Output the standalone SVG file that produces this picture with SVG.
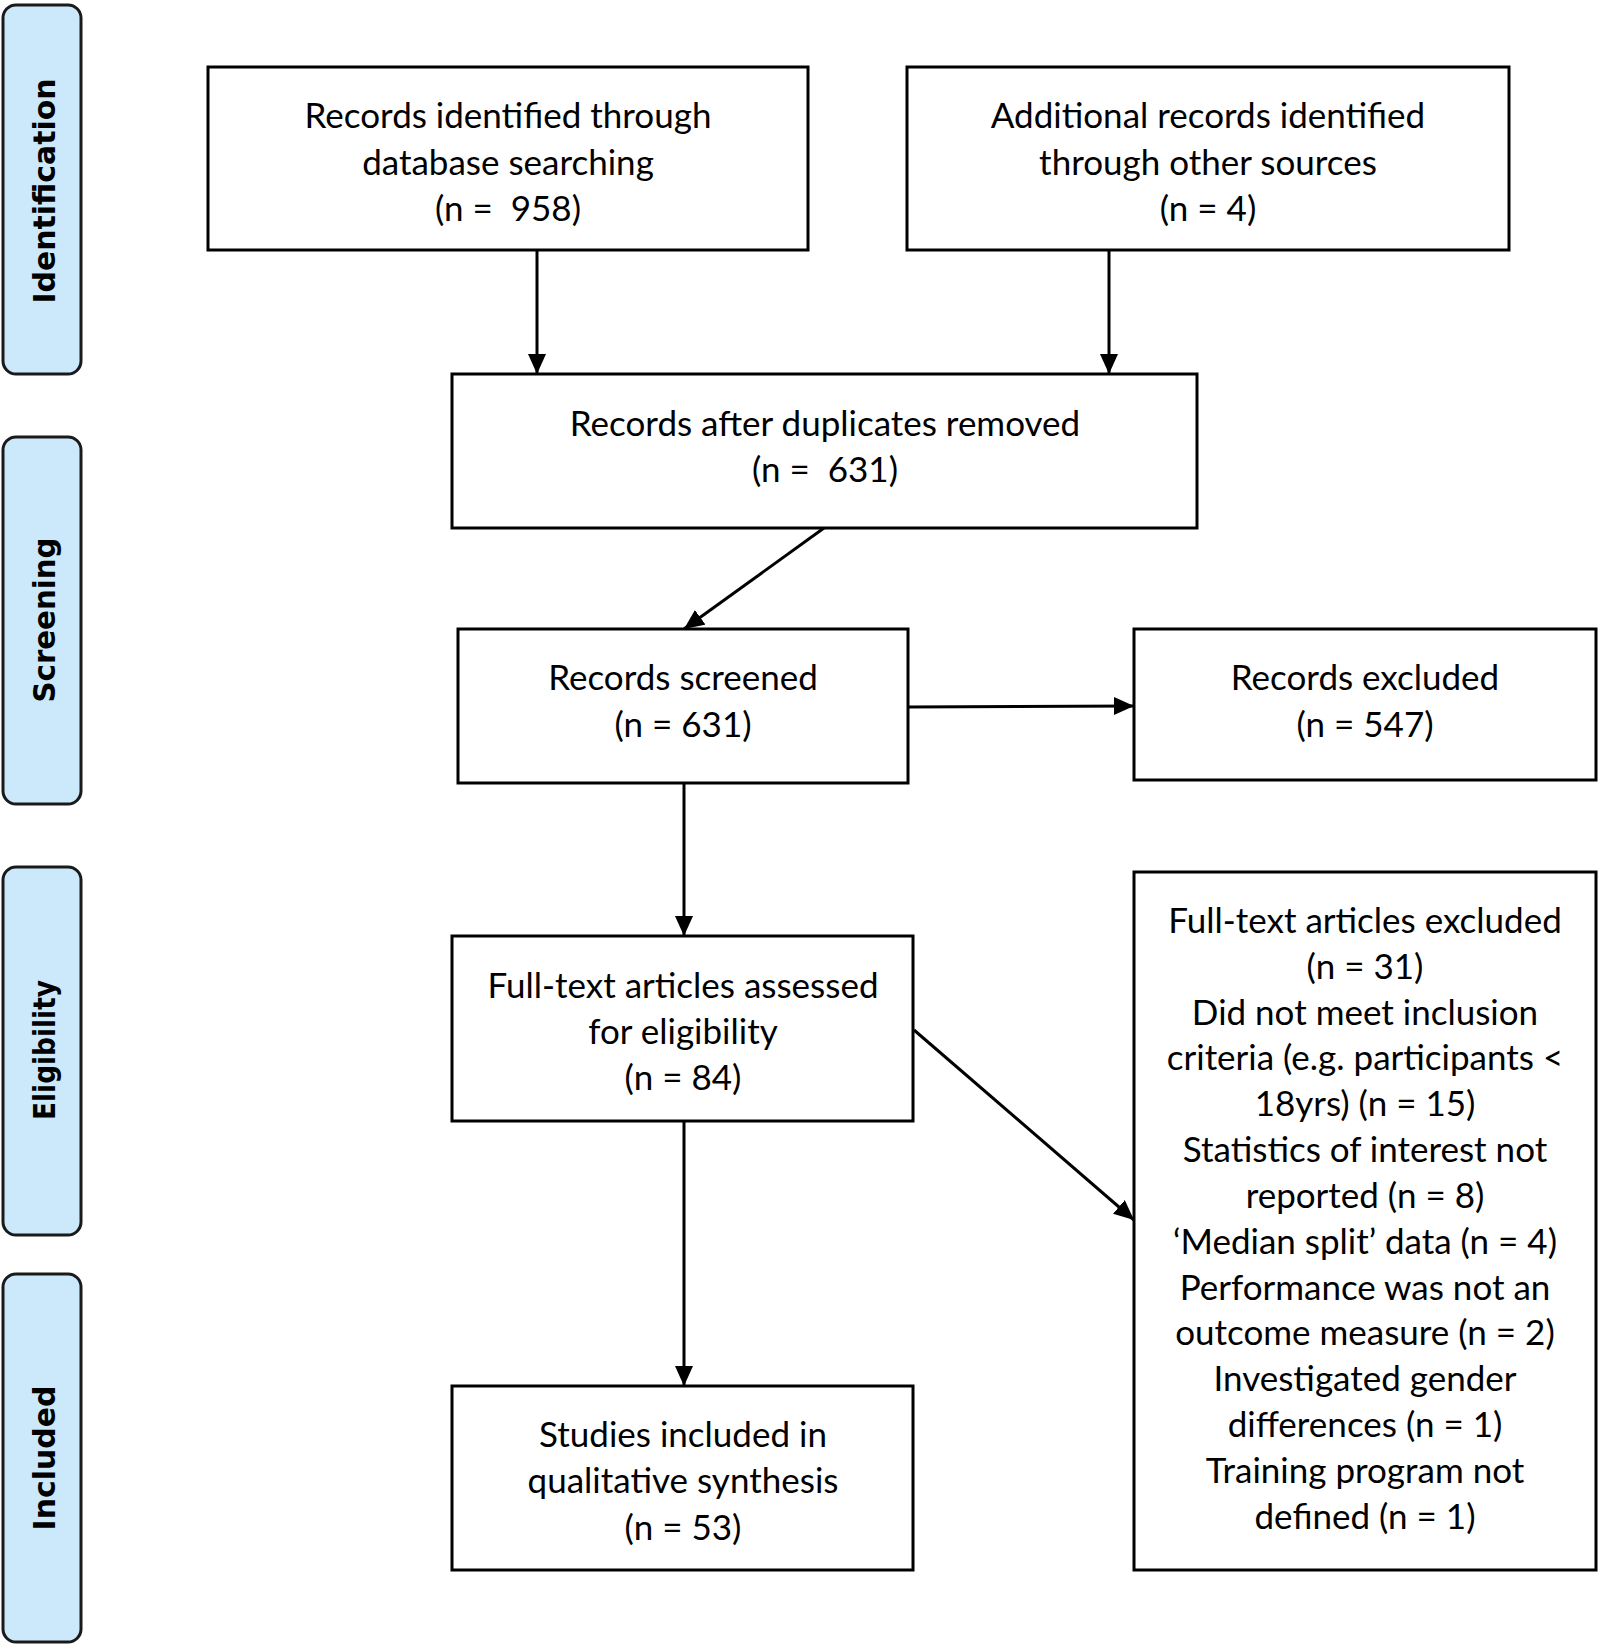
<svg xmlns="http://www.w3.org/2000/svg" width="1600" height="1644" viewBox="0 0 1600 1644">
<style>
.box{fill:#fff;stroke:#000;stroke-width:3}
.lane{fill:#cce9fb;stroke:#1a1a1a;stroke-width:3}
.t{font-family:Lato,"Liberation Sans",sans-serif;font-size:35px;fill:#000;text-anchor:middle}
.lt{font-family:"DejaVu Sans",Verdana,sans-serif;font-weight:bold;font-size:30px;fill:#000;text-anchor:middle}
.c{stroke:#000;stroke-width:3;fill:none;marker-end:url(#ah)}
</style>
<defs>
<marker id="ah" markerUnits="userSpaceOnUse" markerWidth="22" markerHeight="20" refX="20" refY="9" orient="auto">
<path d="M0,0 L20,9 L0,18 z" fill="#000"/>
</marker>
</defs>
<rect width="1600" height="1644" fill="#fff"/>
<g id="lane-identification">
<rect class="lane" x="3" y="5" width="78" height="369" rx="13"/>
<text class="lt" transform="translate(55,191) rotate(-90)" textLength="225" lengthAdjust="spacingAndGlyphs">Identification</text>
</g>
<g id="lane-screening">
<rect class="lane" x="3" y="437" width="78" height="367" rx="13"/>
<text class="lt" transform="translate(55,620) rotate(-90)" textLength="165" lengthAdjust="spacingAndGlyphs">Screening</text>
</g>
<g id="lane-eligibility">
<rect class="lane" x="3" y="867" width="78" height="368" rx="13"/>
<text class="lt" transform="translate(55,1050) rotate(-90)" textLength="140" lengthAdjust="spacingAndGlyphs">Eligibility</text>
</g>
<g id="lane-included">
<rect class="lane" x="3" y="1274" width="78" height="368" rx="13"/>
<text class="lt" transform="translate(55,1458) rotate(-90)" textLength="145" lengthAdjust="spacingAndGlyphs">Included</text>
</g>
<g id="connectors">
<line class="c" x1="537" y1="250" x2="537" y2="374"/>
<line class="c" x1="1109" y1="250" x2="1109" y2="374"/>
<line class="c" x1="824" y1="528" x2="684" y2="629"/>
<line class="c" x1="908" y1="707" x2="1134" y2="706"/>
<line class="c" x1="684" y1="783" x2="684" y2="936"/>
<line class="c" x1="914" y1="1030" x2="1134" y2="1220"/>
<line class="c" x1="684" y1="1121" x2="684" y2="1386"/>
</g>
<g id="node-database">
<rect class="box" x="208" y="67" width="600" height="183"/>
<text class="t" x="508" y="128">Records identified through</text>
<text class="t" x="508" y="174.5">database searching</text>
<text class="t" x="508" y="221" xml:space="preserve">(n =  958)</text>
</g>
<g id="node-other">
<rect class="box" x="907" y="67" width="602" height="183"/>
<text class="t" x="1208" y="128">Additional records identified</text>
<text class="t" x="1208" y="174.5">through other sources</text>
<text class="t" x="1208" y="221">(n = 4)</text>
</g>
<g id="node-duplicates">
<rect class="box" x="452" y="374" width="745" height="154"/>
<text class="t" x="825" y="436">Records after duplicates removed</text>
<text class="t" x="825" y="482" xml:space="preserve">(n =  631)</text>
</g>
<g id="node-screened">
<rect class="box" x="458" y="629" width="450" height="154"/>
<text class="t" x="683" y="690">Records screened</text>
<text class="t" x="683" y="737">(n = 631)</text>
</g>
<g id="node-excluded">
<rect class="box" x="1134" y="629" width="462" height="151"/>
<text class="t" x="1365" y="690">Records excluded</text>
<text class="t" x="1365" y="737">(n = 547)</text>
</g>
<g id="node-fulltext">
<rect class="box" x="452" y="936" width="461" height="185"/>
<text class="t" x="683" y="998">Full-text articles assessed</text>
<text class="t" x="683" y="1044">for eligibility</text>
<text class="t" x="683" y="1090">(n = 84)</text>
</g>
<g id="node-fulltext-excluded">
<rect class="box" x="1134" y="872" width="462" height="698"/>
<text class="t" x="1365" y="933">Full-text articles excluded</text>
<text class="t" x="1365" y="979">(n = 31)</text>
<text class="t" x="1365" y="1025">Did not meet inclusion</text>
<text class="t" x="1365" y="1070">criteria (e.g. participants &lt;</text>
<text class="t" x="1365" y="1116">18yrs) (n = 15)</text>
<text class="t" x="1365" y="1162">Statistics of interest not</text>
<text class="t" x="1365" y="1208">reported (n = 8)</text>
<text class="t" x="1365" y="1254">‘Median split’ data (n = 4)</text>
<text class="t" x="1365" y="1300">Performance was not an</text>
<text class="t" x="1365" y="1345">outcome measure (n = 2)</text>
<text class="t" x="1365" y="1391">Investigated gender</text>
<text class="t" x="1365" y="1437">differences (n = 1)</text>
<text class="t" x="1365" y="1483">Training program not</text>
<text class="t" x="1365" y="1529">defined (n = 1)</text>
</g>
<g id="node-included">
<rect class="box" x="452" y="1386" width="461" height="184"/>
<text class="t" x="683" y="1447">Studies included in</text>
<text class="t" x="683" y="1493">qualitative synthesis</text>
<text class="t" x="683" y="1540">(n = 53)</text>
</g>
</svg>
